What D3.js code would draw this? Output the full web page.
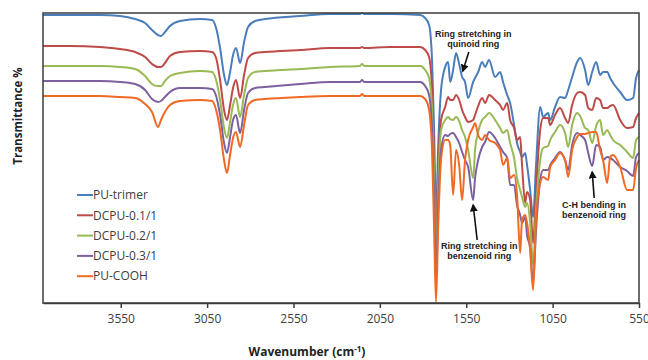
<!DOCTYPE html>
<html>
<head>
<meta charset="utf-8">
<script src="https://cdn.jsdelivr.net/npm/d3@7"></script>
<style>
  body { margin: 0; background: #fff; }
  svg { display: block; }
</style>
</head>
<body>
<svg id="chart" width="648" height="360"></svg>
<script>
// Wavenumber grid (cm-1), shared by all spectra
const wavenumbers = [
  4000, 3844, 3670, 3554, 3467, 3409, 3369, 3334, 3317, 3294,
  3265, 3207, 3091, 3021, 2998, 2975, 2952, 2935, 2917, 2900,
  2883, 2859, 2836, 2813, 2773, 2715, 2512, 2338, 2165, 2153,
  2141, 1991, 1817, 1788, 1765, 1748, 1736,
  1725, 1713, 1696, 1672, 1655, 1643, 1626, 1609, 1591, 1574,
  1557, 1539, 1510, 1499, 1481, 1458, 1441, 1418, 1383, 1354,
  1337, 1313, 1296, 1273, 1256, 1238, 1227, 1209, 1198, 1180,
  1163, 1146, 1122, 1105, 1076, 1064, 1036, 1007, 978, 960,
  937, 908, 891, 862, 844, 821, 798, 775, 758, 734,
  717, 700, 659, 619, 584, 567, 550
];

// Transmittance (offset, arbitrary units)
const puTrimer = [
  288, 288, 288, 287, 284, 280, 273, 268, 267, 271,
  277, 282, 284, 283, 275, 255, 228, 218, 231, 248,
  255, 240, 261, 276, 282, 284, 287, 289, 289, 290,
  289, 289, 288, 285, 278, 243, 173,
  83, 153, 213, 236, 241, 221, 233, 250, 239, 226,
  221, 205, 221, 225, 231, 241, 236, 243, 226, 231,
  221, 208, 200, 178, 160, 151, 146, 150, 138, 113,
  86, 138, 196, 186, 190, 183, 196, 206, 205, 213,
  226, 241, 245, 233, 218, 231, 241, 228, 231, 231,
  225, 220, 211, 203, 205, 225, 233
];
const dcpu01 = [
  257, 257, 256, 254, 251, 246, 239, 236, 236, 240,
  247, 251, 252, 251, 245, 223, 193, 183, 198, 215,
  223, 205, 228, 245, 250, 251, 253, 255, 255, 256,
  255, 256, 256, 253, 246, 213, 143,
  58, 133, 183, 196, 206, 203, 203, 208, 203, 193,
  186, 181, 183, 188, 197, 205, 200, 208, 203, 198,
  193, 200, 183, 175, 163, 166, 138, 100, 111, 103,
  60, 113, 173, 185, 185, 178, 188, 195, 185, 180,
  198, 210, 211, 208, 195, 193, 205, 203, 195, 195,
  197, 198, 183, 175, 176, 185, 190
];
const dcpu02 = [
  237, 237, 237, 236, 234, 227, 219, 217, 217, 222,
  227, 230, 232, 231, 223, 203, 175, 165, 181, 198,
  205, 186, 208, 225, 231, 232, 234, 236, 237, 239,
  237, 237, 237, 233, 225, 193, 123,
  38, 113, 173, 183, 186, 184, 183, 186, 182, 173,
  166, 153, 125, 153, 171, 183, 186, 190, 183, 175,
  170, 173, 160, 145, 125, 113, 106, 96, 100, 80,
  38, 93, 143, 155, 157, 163, 171, 178, 170, 156,
  178, 190, 187, 175, 173, 160, 177, 183, 168, 173,
  168, 163, 158, 151, 145, 163, 166
];
const dcpu03 = [
  222, 222, 222, 221, 219, 213, 204, 201, 202, 206,
  211, 215, 215, 214, 207, 188, 160, 150, 166, 183,
  188, 170, 193, 210, 215, 216, 219, 221, 221, 223,
  221, 221, 221, 217, 208, 173, 103,
  20, 93, 153, 168, 167, 169, 170, 166, 160, 151,
  143, 136, 103, 125, 143, 156, 161, 171, 165, 156,
  151, 145, 118, 118, 98, 88, 80, 86, 68, 55,
  20, 73, 123, 133, 133, 138, 145, 151, 143, 133,
  158, 170, 168, 163, 150, 137, 158, 156, 143, 146,
  145, 143, 136, 132, 127, 146, 150
];
const puCooh = [
  207, 207, 207, 206, 205, 199, 191, 176, 183, 191,
  198, 202, 203, 202, 193, 173, 143, 130, 148, 165,
  171, 156, 178, 198, 203, 204, 206, 207, 207, 209,
  207, 207, 207, 204, 193, 153, 73,
  1, 73, 143, 163, 163, 158, 108, 153, 138, 103,
  143, 163, 176, 180, 168, 163, 168, 163, 160, 153,
  138, 145, 125, 128, 108, 50, 83, 88, 80, 53,
  13, 83, 120, 126, 123, 136, 143, 150, 143, 126,
  153, 166, 169, 169, 170, 171, 171, 153, 143, 120,
  146, 148, 136, 113, 113, 135, 143
];

const seriesNames = ['PU-trimer', 'DCPU-0.1/1', 'DCPU-0.2/1', 'DCPU-0.3/1', 'PU-COOH'];
const seriesValues = [puTrimer, dcpu01, dcpu02, dcpu03, puCooh];
const colors = ['#4a7ebb', '#be4b48', '#98b954', '#7d60a0', '#f06a24'];
const xTicks = [3550, 3050, 2550, 2050, 1550, 1050, 550];

// Annotations: label lines, anchor wavenumber, arrow from/to values
const notes = [
  { lines: ['Ring stretching in', 'quinoid ring'], wn: 1570, tail: 251, head: 232, dx: 6, textWn: 1510, textV: 266 },
  { lines: ['Ring stretching in', 'benzenoid ring'], wn: 1510, tail: 63, head: 98, dx: 4, textWn: 1475, textV: 54 },
  { lines: ['C-H bending in', 'benzenoid ring'], wn: 821, tail: 105, head: 131, dx: 2, textWn: 810, textV: 95 }
];

const LEFT = 43, RIGHT = 639, TOP = 13, BOTTOM = 303;

const svg = d3.select('#chart');

const x = d3.scaleLinear([4000, 550], [LEFT, RIGHT]);
const y = d3.scaleLinear([0, 290], [BOTTOM, TOP]);

// Spectra
const line = d3.line()
  .x((d, i) => x(wavenumbers[i]))
  .y((d) => y(d))
  .curve(d3.curveMonotoneX);

svg.append('g')
  .selectAll('path')
  .data(seriesValues)
  .join('path')
  .attr('fill', 'none')
  .attr('stroke', (d, i) => colors[i])
  .attr('stroke-width', 2)
  .attr('stroke-linejoin', 'round')
  .attr('d', line);

// Frame
svg.append('rect')
  .attr('x', LEFT)
  .attr('y', TOP)
  .attr('width', RIGHT - LEFT)
  .attr('height', BOTTOM - TOP)
  .attr('fill', 'none')
  .attr('stroke', '#3c3c3c')
  .attr('stroke-width', 1.5);

// X axis
const xAxis = d3.axisBottom(x)
  .tickValues(xTicks)
  .tickFormat(d3.format('d'))
  .tickSize(5)
  .tickSizeOuter(0)
  .tickPadding(6);
const gx = svg.append('g')
  .attr('transform', `translate(0,${BOTTOM})`)
  .call(xAxis);
gx.select('.domain').attr('stroke', '#3c3c3c').attr('stroke-width', 1.5);
gx.selectAll('.tick line').attr('stroke', '#3c3c3c').attr('stroke-width', 1.5);
gx.selectAll('.tick text')
  .attr('fill', '#404040')
  .style('font-family', 'Open Sans, sans-serif')
  .style('font-size', '12px');

// Axis titles
svg.append('text')
  .attr('transform', 'translate(22,116) rotate(-90)')
  .attr('text-anchor', 'middle')
  .style('font-family', 'Open Sans, sans-serif')
  .style('font-size', '11.5px')
  .style('font-weight', 'bold')
  .attr('fill', '#222')
  .text('Transmittance %');

const xt = svg.append('text')
  .attr('x', 307)
  .attr('y', 356)
  .attr('text-anchor', 'middle')
  .style('font-family', 'Open Sans, sans-serif')
  .style('font-size', '12px')
  .style('font-weight', 'bold')
  .attr('fill', '#222');
xt.append('tspan').text('Wavenumber (cm');
xt.append('tspan').attr('dy', -4).style('font-size', '8px').text('-1');
xt.append('tspan').attr('dy', 4).text(')');

// Legend
const legend = svg.append('g')
  .selectAll('g')
  .data(seriesNames)
  .join('g')
  .attr('transform', (d, i) => `translate(77,${195 + i * 20.3})`);
legend.append('line')
  .attr('x1', 0).attr('x2', 16)
  .attr('stroke', (d, i) => colors[i])
  .attr('stroke-width', 2);
legend.append('text')
  .attr('x', 16)
  .attr('dy', '0.35em')
  .style('font-family', 'Open Sans, sans-serif')
  .style('font-size', '12px')
  .attr('fill', '#404040')
  .text((d) => d);

// Annotations
svg.append('defs').append('marker')
  .attr('id', 'arrow')
  .attr('viewBox', '0 0 10 10')
  .attr('refX', 8).attr('refY', 5)
  .attr('markerWidth', 5).attr('markerHeight', 5)
  .attr('orient', 'auto-start-reverse')
  .append('path')
  .attr('d', 'M0,0 L10,5 L0,10 z')
  .attr('fill', '#111');

notes.forEach((n) => {
  svg.append('line')
    .attr('x1', x(n.wn) + n.dx)
    .attr('y1', y(n.tail))
    .attr('x2', x(n.wn))
    .attr('y2', y(n.head))
    .attr('stroke', '#111')
    .attr('stroke-width', 1.6)
    .attr('marker-end', 'url(#arrow)');
  svg.append('text')
    .attr('x', x(n.textWn))
    .attr('y', y(n.textV))
    .attr('text-anchor', 'middle')
    .style('font-family', 'Liberation Sans, Arial, sans-serif')
    .style('font-size', '9px')
    .style('font-weight', 'bold')
    .attr('fill', '#222')
    .selectAll('tspan')
    .data(n.lines)
    .join('tspan')
    .attr('x', x(n.textWn))
    .attr('dy', (d, i) => (i ? '1.12em' : 0))
    .text((d) => d);
});
</script>
</body>
</html>
